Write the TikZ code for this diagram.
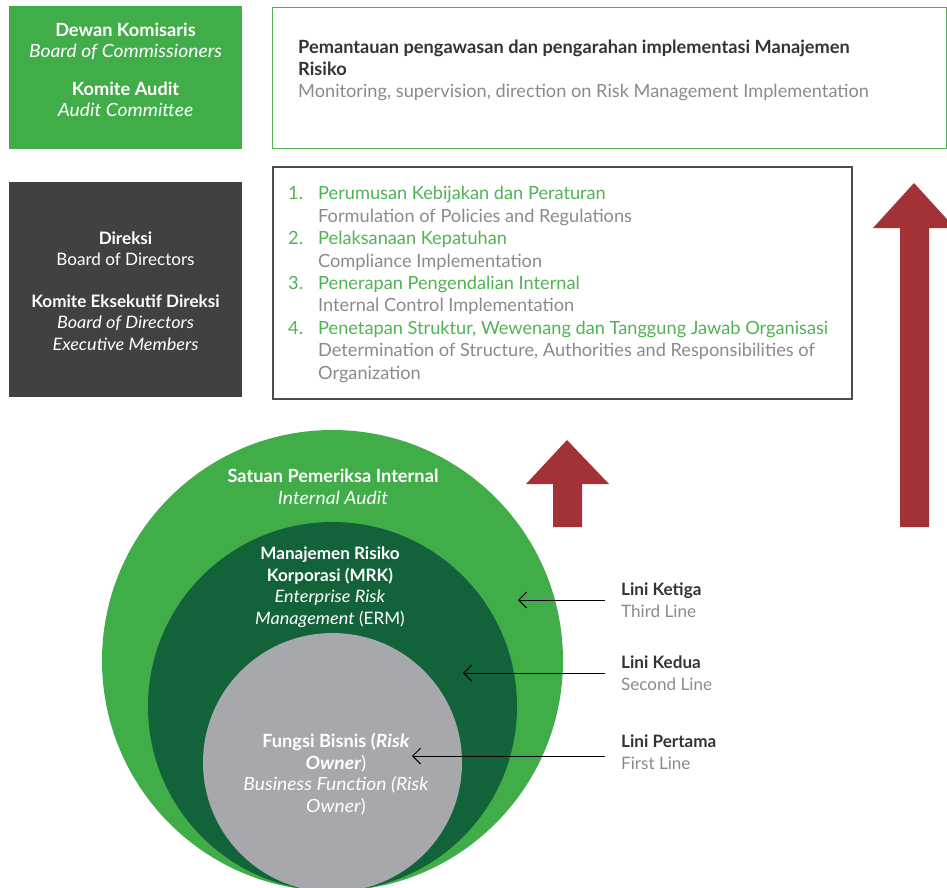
\documentclass[tikz,border=0pt]{standalone}
\usepackage{fontspec}
\setmainfont{Lato}[ItalicFeatures={FakeStretch=1.06}, BoldItalicFeatures={FakeStretch=1.06}]
\usetikzlibrary{arrows.meta}

\definecolor{grn}{RGB}{65,173,73}
\definecolor{dgrn}{RGB}{19,99,58}
\definecolor{lgrn}{RGB}{80,178,84}
\definecolor{cgray}{RGB}{167,168,171}
\definecolor{dbox}{RGB}{65,65,65}
\definecolor{arrred}{RGB}{163,50,54}
\definecolor{txtgray}{RGB}{138,138,138}
\definecolor{txtdark}{RGB}{51,51,51}
\definecolor{bordgray}{RGB}{77,77,77}

\newcommand{\txt}{\fontsize{18.2}{21.5}\selectfont}
\newcommand{\smalltxt}{\fontsize{17.1}{21.5}\selectfont}

\begin{document}
\begin{tikzpicture}[x=1pt, y=-1pt,
    panel/.style ={rectangle, inner sep=0pt, anchor=north west},
    layer/.style ={circle, inner sep=0pt},
    words/.style ={inner sep=0pt, font=\txt},
    lini/.style ={inner xsep=16pt, inner ysep=0pt, anchor=west, align=left, font=\smalltxt},
    pointer/.style ={-{Straight Barb[length=8pt, width=16pt]}, line width=1pt}]
   \useasboundingbox (0,0) rectangle (947,887);
   \clip (0,0) rectangle (947,887);

   % boxes
   \node[panel, fill=grn, minimum width=233pt, minimum height=143pt] (boc) at (9,6) {};
   \node[panel, fill=dbox, minimum width=233pt, minimum height=215pt] (bod) at (9,182) {};
   \node[panel, draw=lgrn, line width=1.2pt, minimum width=674pt, minimum height=141pt] (monitor) at (272,7) {};
   \node[panel, draw=bordgray, line width=2pt, minimum width=579pt, minimum height=232pt] (tasks) at (272,166) {};

   \node[words, white, align=center] (boctext) at (125.5,70)
     {\textbf{Dewan Komisaris}\\\textit{Board of Commissioners}\\[16pt]
      \textbf{Komite Audit}\\\textit{Audit Committee}};
   \node[words, white, align=center, font=\smalltxt] (bodtext) at (125.5,291)
     {\textbf{Direksi}\\Board of Directors\\[20pt]
      \textbf{Komite Eksekutif Direksi}\\\textit{Board of Directors}\\\textit{Executive Members}};
   \node[words, anchor=west, align=left, font=\fontsize{18.2}{22}\selectfont] (montext) at (298,70)
     {\textbf{\color{txtdark}Pemantauan pengawasan dan pengarahan implementasi Manajemen}\\
      \textbf{\color{txtdark}Risiko}\\
      {\color{txtgray}Monitoring, supervision, direction on Risk Management Implementation}};
   \node[words, anchor=west, align=left, font=\fontsize{18.2}{22.4}\selectfont] (tasktext) at (288,284.5)
     {\color{lgrn}\makebox[30pt][l]{1.}Perumusan Kebijakan dan Peraturan\\
      \color{txtgray}\hspace*{30pt}Formulation of Policies and Regulations\\
      \color{lgrn}\makebox[30pt][l]{2.}Pelaksanaan Kepatuhan\\
      \color{txtgray}\hspace*{30pt}Compliance Implementation\\
      \color{lgrn}\makebox[30pt][l]{3.}Penerapan Pengendalian Internal\\
      \color{txtgray}\hspace*{30pt}Internal Control Implementation\\
      \color{lgrn}\makebox[30pt][l]{4.}Penetapan Struktur, Wewenang dan Tanggung Jawab Organisasi\\
      \color{txtgray}\hspace*{30pt}Determination of Structure, Authorities and Responsibilities of\\
      \color{txtgray}\hspace*{30pt}Organization};

   % arrows up
   \fill[arrred] (900,527) -- (900,228) -- (873,228) -- (914,183) -- (955,228) -- (929,228) -- (929,527) -- cycle;
   \fill[arrred] (553,527) -- (553,484) -- (526,484) -- (567,440) -- (609,484) -- (582,484) -- (582,527) -- cycle;

   % lines of defence
   \node[layer, fill=grn, minimum size=461pt] (third) at (332.5,660.5) {};
   \node[layer, fill=dgrn, minimum size=369pt] (second) at (332.5,706.5) {};
   \node[layer, fill=cgray, minimum size=259pt] (first) at (332.5,762.5) {};

   \node[words, white, align=center] (thirdtext) at (333,487)
     {\textbf{Satuan Pemeriksa Internal}\\\textit{Internal Audit}};
   \node[words, white, align=center, font=\smalltxt] (secondtext) at (330,587)
     {\textbf{Manajemen Risiko}\\\textbf{Korporasi (MRK)}\\\textit{Enterprise Risk}\\\textit{Management} (ERM)};
   \node[words, white, align=center] (firsttext) at (336,774)
     {\textbf{Fungsi Bisnis (\textit{Risk}}\\\textbf{\textit{Owner}})\\
      \textit{Business Function (Risk}\\\textit{Owner})};

   \node[lini] (l3) at (605,600) {\textbf{\color{txtdark}Lini Ketiga}\\{\color{txtgray}Third Line}};
   \node[lini] (l2) at (605,673) {\textbf{\color{txtdark}Lini Kedua}\\{\color{txtgray}Second Line}};
   \node[lini] (l1) at (605,752) {\textbf{\color{txtdark}Lini Pertama}\\{\color{txtgray}First Line}};
   \coordinate (p3) at (518,600);
   \coordinate (p2) at (463,673);
   \coordinate (p1) at (412,756);
   \draw[pointer] (l3.west) -- (p3);
   \draw[pointer] (l2.west) -- (p2);
   \draw[pointer] (l1.west |- p1) -- (p1);
 \end{tikzpicture}
\end{document}
